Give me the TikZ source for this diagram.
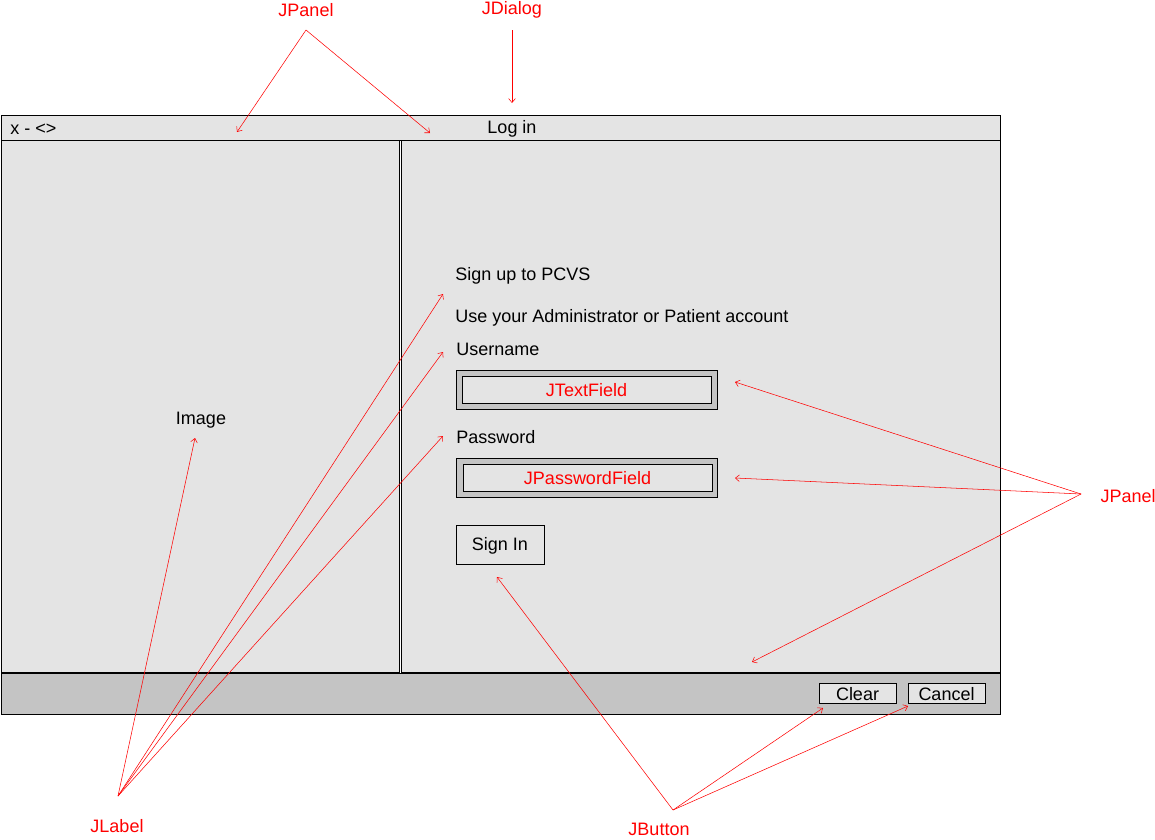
\documentclass[tikz,border=0pt]{standalone}
\usepackage{fontspec}
\setmainfont{Liberation Sans}
\usepackage{tikz}
\usetikzlibrary{arrows.meta,positioning}
\definecolor{winfill}{HTML}{E4E4E4}
\definecolor{barfill}{HTML}{C4C4C4}
\tikzset{
  %Define standard arrow tip
  >={Straight Barb[length=3pt,width=5pt]},
  %Define style for window parts
  pane/.style={
    rectangle,
    draw=black, line width=0.7pt,
    fill=winfill},
  bar/.style={
    rectangle,
    draw=black, line width=0.7pt,
    fill=barfill},
  %Define style for labels
  txt/.style={
    font=\fontsize{13.5}{16}\selectfont,
    inner sep=0pt},
  note/.style={
    txt,
    text=red},
  % Define arrow style
  pil/.style={
    ->,
    red,
    thin}
}

\begin{document}
\begin{tikzpicture}[x=0.75pt,y=-0.75pt]
  \useasboundingbox (0,0) rectangle (1155,839);
  % window
  \draw[pane] (1,115) rectangle (1000,140);
  \draw[pane] (1,140) rectangle (399,672);
  \draw[pane] (401,140) rectangle (1000,672);
  \draw[bar] (1,673) rectangle (1000,714);
  \node[txt,anchor=west] (close) at (10,129) {x - <>};
  \node[txt] (title) at (512,129) {Log in};
  \node[txt] (image) at (201,420) {Image};
  \node[txt,anchor=west] (signup) at (455,276) {Sign up to PCVS};
  \node[txt,anchor=west] (account) at (455,318) {Use your Administrator or Patient account};
  \node[txt,anchor=west] (user) at (456,349) {Username};
  \node[txt,anchor=west] (pass) at (456,437) {Password};
  % fields
  \draw[bar] (456,370) rectangle (717,409);
  \draw[pane] (462,376) rectangle (711,403);
  \node[note] (textfield) at (586.5,390.5) {JTextField};
  \draw[bar] (456,458) rectangle (717,497);
  \draw[pane] (463,464) rectangle (712,491);
  \node[note] (passfield) at (587.5,478.5) {JPasswordField};
  % buttons
  \draw[pane] (456,525) rectangle (544,564);
  \node[txt] (signin) at (500,545.5) {Sign In};
  \draw[pane] (819,683) rectangle (896,703);
  \node[txt] (clear) at (857.5,694) {Clear};
  \draw[pane] (908,683) rectangle (985,703);
  \node[txt] (cancel) at (946.5,694) {Cancel};

  % annotations
  \node[note] (jpaneltop) at (306,10) {JPanel};
  \node[note] (jdialog) at (512,10) {JDialog};
  \node[note] (jpanelright) at (1128,496) {JPanel};
  \node[note] (jlabel) at (117,826) {JLabel};
  \node[note] (jbutton) at (659,829) {JButton};
  \coordinate (ptop) at (306,30);
  \coordinate (pdia) at (512,30);
  \coordinate (pright) at (1081,494);
  \coordinate (plabel) at (118,796);
  \coordinate (pbutton) at (673,810);
  \coordinate (t1) at (237,132);
  \coordinate (t2) at (430,133);
  \coordinate (t3) at (512,103);
  \coordinate (t4) at (735,382);
  \coordinate (t5) at (735,478);
  \coordinate (t6) at (752,662);
  \coordinate (t7) at (195,438);
  \coordinate (t8) at (443,294);
  \coordinate (t9) at (443,352);
  \coordinate (t10) at (443,436);
  \coordinate (t11) at (497,577);
  \coordinate (t12) at (823,708);
  \coordinate (t13) at (908,706);
  \draw[pil] (ptop) -- (t1);
  \draw[pil] (ptop) -- (t2);
  \draw[pil] (pdia) -- (t3);
  \draw[pil] (pright) -- (t4);
  \draw[pil] (pright) -- (t5);
  \draw[pil] (pright) -- (t6);
  \draw[pil] (plabel) -- (t7);
  \draw[pil] (plabel) -- (t8);
  \draw[pil] (plabel) -- (t9);
  \draw[pil] (plabel) -- (t10);
  \draw[pil] (pbutton) -- (t11);
  \draw[pil] (pbutton) -- (t12);
  \draw[pil] (pbutton) -- (t13);
\end{tikzpicture}
\end{document}
